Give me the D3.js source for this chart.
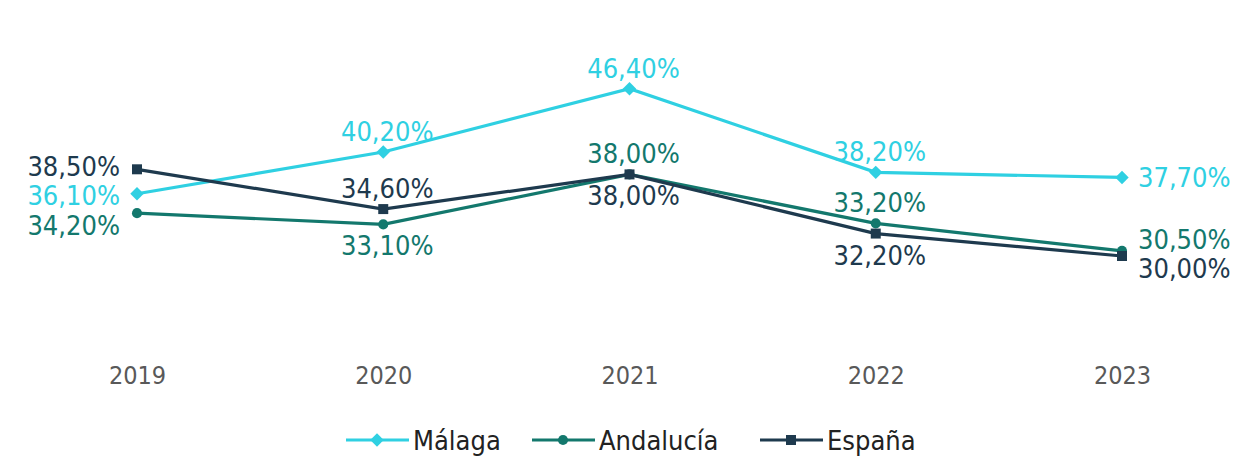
<!DOCTYPE html>
<html>
<head>
<meta charset="utf-8">
<script src="https://cdn.jsdelivr.net/npm/d3@7"></script>
<style>
  body { margin: 0; background: #fff; }
  text { font-family: "DejaVu Sans Condensed", "DejaVu Sans", sans-serif; font-stretch: condensed; }
</style>
</head>
<body>
<div id="chart"></div>
<script>
const years = ['2019', '2020', '2021', '2022', '2023']
const malaga = [36.1, 40.2, 46.4, 38.2, 37.7]
const andalucia = [34.2, 33.1, 38.0, 33.2, 30.5]
const espana = [38.5, 34.6, 38.0, 32.2, 30.0]
const seriesNames = ['Málaga', 'Andalucía', 'España']

// where each value label sits relative to its point
const malagaPos = ['left', 'above', 'above', 'above', 'right']
const andaluciaPos = ['left', 'below', 'above', 'above', 'right']
const espanaPos = ['left', 'above', 'below', 'below', 'right']

const series = [
    { name: seriesNames[0], values: malaga, pos: malagaPos, color: '#2fd0e2', shape: d3.symbolSquare, rot: 45, size: 90, dy: [1, 0, 0, 0, 0] },
    { name: seriesNames[1], values: andalucia, pos: andaluciaPos, color: '#13786d', shape: d3.symbolCircle, rot: 0, size: 80, dy: [12, 0, 0, 0, -12] },
    { name: seriesNames[2], values: espana, pos: espanaPos, color: '#1e3a4e', shape: d3.symbolSquare, rot: 0, size: 100, dy: [-3, 0, 0, 0, 12] }
]

const svg = d3.select('#chart')
    .append('svg')
    .attr('width', 1242)
    .attr('height', 462)

const xScale = d3.scalePoint()
    .domain(years)
    .range([137, 1122])

const yScale = d3.scaleLinear()
    .domain([25, 50])
    .range([307, 52])

const xAxis = d3.axisBottom(xScale).tickSize(0).tickPadding(0)
const gx = svg.append('g')
    .attr('transform', 'translate(0,366)')
    .call(xAxis)
gx.select('.domain').remove()
gx.selectAll('text')
    .attr('font-size', 25)
    .attr('fill', '#595959')
    .style('font-family', '"DejaVu Sans Condensed", "DejaVu Sans", sans-serif')

const line = d3.line()
    .x((d, i) => xScale(years[i]))
    .y(d => yScale(d))

const fmt = v => d3.format('.2f')(v).replace('.', ',') + '%'

series.forEach(s => {
    svg.append('path')
        .datum(s.values)
        .attr('fill', 'none')
        .attr('stroke', s.color)
        .attr('stroke-width', 3.2)
        .attr('d', line)

    svg.selectAll(null)
        .data(s.values)
        .enter()
        .append('path')
        .attr('d', d3.symbol().type(s.shape).size(s.size))
        .attr('transform', (d, i) => `translate(${xScale(years[i])},${yScale(d)}) rotate(${s.rot})`)
        .attr('fill', s.color)

    svg.selectAll(null)
        .data(s.values)
        .enter()
        .append('text')
        .text(d => fmt(d))
        .attr('font-size', 27)
        .attr('fill', s.color)
        .attr('text-anchor', (d, i) => s.pos[i] === 'left' ? 'end' : s.pos[i] === 'right' ? 'start' : 'middle')
        .attr('x', (d, i) => {
            const x = xScale(years[i])
            if (s.pos[i] === 'left') return x - 17
            if (s.pos[i] === 'right') return x + 16
            return x + 4
        })
        .attr('y', (d, i) => {
            const y = yScale(d) + s.dy[i]
            if (s.pos[i] === 'above') return y - 11
            if (s.pos[i] === 'below') return y + 31
            return y + 10
        })
})

// legend
const legendX = [346, 532, 760]
const legend = svg.append('g')
series.forEach((s, i) => {
    const g = legend.append('g').attr('transform', `translate(${legendX[i]},440)`)
    g.append('line')
        .attr('x1', 0).attr('x2', 63)
        .attr('stroke', s.color)
        .attr('stroke-width', 3.2)
    g.append('path')
        .attr('d', d3.symbol().type(s.shape).size(s.size))
        .attr('transform', `translate(31,0) rotate(${s.rot})`)
        .attr('fill', s.color)
    g.append('text')
        .attr('x', 67)
        .attr('y', 10)
        .attr('font-size', 27)
        .attr('fill', '#222')
        .text(s.name)
})
</script>
</body>
</html>
